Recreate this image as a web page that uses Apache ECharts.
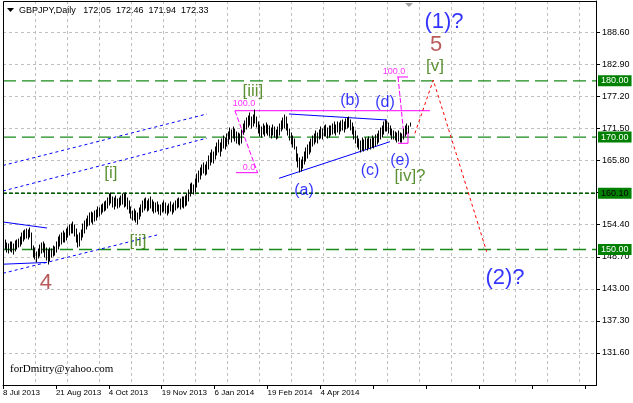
<!DOCTYPE html>
<html><head><meta charset="utf-8">
<script src="https://cdn.jsdelivr.net/npm/echarts@6/dist/echarts.min.js"></script>
<style>html,body{margin:0;padding:0;background:#fff}#c{width:633px;height:403px}</style>
</head><body><div id="c"></div>
<script>
// ---- data ----
const dateLabels = ['8 Jul 2013','21 Aug 2013','4 Oct 2013','19 Nov 2013','6 Jan 2014','19 Feb 2014','4 Apr 2014'];
const highs = [151.6,151.7,151.2,151.0,151.4,151.3,150.9,151.5,151.6,151.9,
152.3,152.9,153.3,153.4,153.6,153.5,153.8,152.9,150.6,150.2,
149.6,150.0,150.8,151.2,151.4,150.9,150.3,149.9,150.2,150.0,
150.6,150.4,151.3,152.2,152.6,152.9,153.2,153.0,153.6,154.0,
154.4,154.6,154.9,154.3,153.6,152.5,152.9,153.4,154.5,155.0,
155.5,156.0,156.5,156.7,156.4,156.9,157.0,157.5,157.4,158.0,
158.1,158.4,158.6,159.2,159.8,160.1,159.4,159.1,159.5,158.9,
159.2,159.6,159.9,159.9,160.0,159.1,158.6,157.5,156.9,157.2,
156.8,156.5,157.3,158.0,158.6,158.9,159.2,158.7,159.0,159.3,
158.8,158.4,158.2,158.5,158.0,157.9,158.3,158.6,158.2,157.8,
158.1,158.4,158.0,158.3,158.7,159.0,159.2,159.0,159.4,159.3,
159.6,159.8,160.6,161.6,161.9,161.5,162.5,163.5,164.0,164.5,
165.0,165.4,165.1,165.6,166.6,167.2,167.7,167.4,168.2,169.0,
169.5,168.9,169.6,170.2,169.8,170.5,170.9,171.6,171.2,171.7,
171.4,170.9,170.8,170.5,171.3,172.3,172.9,173.4,173.8,174.2,
173.6,174.0,174.8,173.6,172.7,172.2,171.8,172.3,171.9,172.5,
172.2,171.9,171.6,172.1,171.8,171.3,171.7,172.3,172.9,173.4,
173.9,173.5,172.4,171.5,170.8,170.2,169.6,168.3,167.0,166.2,
166.0,166.5,167.4,168.0,168.6,169.2,169.6,170.1,170.6,171.0,
170.8,171.3,171.7,171.4,171.9,172.1,171.6,171.9,172.0,172.3,
172.6,172.2,172.7,172.5,172.8,173.0,172.6,173.2,173.4,173.6,
173.1,172.5,171.8,171.0,170.1,169.6,169.3,169.8,169.5,169.9,
169.6,170.0,169.7,170.1,169.9,170.3,170.6,171.0,171.6,172.0,
172.7,173.1,172.9,172.5,172.0,171.4,171.1,170.9,170.7,171.0,
170.8,170.6,171.4,172.0,172.3,172.0,172.46];
const lows = [150.1,150.0,149.6,149.3,149.7,149.5,149.2,149.8,150.1,150.4,
150.6,151.0,151.5,151.8,152.0,151.9,152.3,150.0,148.6,148.3,
147.8,148.4,148.9,149.3,149.5,148.7,148.2,147.5,147.9,148.6,
148.9,149.1,149.6,150.1,150.6,151.0,151.4,151.3,151.6,152.3,
152.6,152.9,153.0,152.4,151.3,150.4,150.7,151.6,152.2,153.0,
153.6,154.1,154.4,154.9,154.6,155.0,155.3,155.8,155.9,156.3,
156.6,156.9,157.0,157.3,157.9,158.3,157.6,157.2,157.8,157.3,
157.5,157.9,158.1,157.6,157.7,157.2,156.5,155.6,155.3,155.2,
154.9,154.6,155.5,156.0,156.6,157.0,157.3,156.8,157.1,157.4,
156.9,156.5,156.6,156.9,156.3,156.2,156.7,156.9,156.4,156.1,
156.5,156.8,156.3,156.6,157.0,157.3,157.5,157.2,157.6,157.4,
157.8,158.0,158.6,159.5,160.0,159.8,160.2,161.2,162.0,162.6,
163.3,163.6,163.2,163.5,164.4,165.0,165.6,165.3,166.1,166.8,
167.3,166.7,167.6,168.1,167.9,168.4,168.8,169.6,169.2,169.9,
169.3,168.9,168.8,168.6,169.0,170.5,170.9,171.4,171.8,172.1,
171.6,172.0,172.5,171.7,170.8,170.2,170.0,170.5,170.2,170.7,
170.4,170.1,169.8,170.3,170.0,169.6,169.9,170.4,171.0,171.4,
171.6,171.2,170.3,169.5,168.8,168.2,167.9,165.8,164.6,163.8,
164.0,164.5,165.2,165.8,166.2,166.9,167.4,168.4,168.8,169.2,
169.0,169.6,169.9,169.7,170.1,170.2,169.8,170.0,170.3,170.5,
170.8,170.4,170.9,170.6,171.0,171.2,170.9,171.4,171.6,171.7,
171.2,170.6,169.7,168.9,168.3,167.8,167.4,167.7,167.6,167.9,
167.7,168.0,167.9,168.2,168.1,168.4,168.7,169.2,169.6,170.0,
170.6,171.0,171.1,170.8,170.3,169.7,169.6,169.5,169.2,169.3,
169.1,169.2,169.6,170.2,170.5,170.8,171.94];
const levelValues = [180, 170, 160, 150];
const levelTexts = ['180.00', '170.00', '160.10', '150.00'];
// trend lines: [barIndex, price] pairs
const channelTop = [[0, 164.94], [123.4, 174.10]];
const channelMid = [[0, 160.40], [123.4, 169.80]];
const channelLow = [[0, 145.77], [93.2, 152.58]];
const wave4Upper = [[0, 154.89], [26.6, 153.82]];
const wave4Lower = [[0, 147.38], [26.6, 147.70]];
const triUpper = [[173.0, 174.10], [232.3, 173.03]];
const triLower = [[167.0, 162.66], [234.1, 169.17]];
const fibLeftTop = [[140.3, 174.68], [258.3, 174.68]];
const fibLeftBottom = [[141.0, 163.66], [154.3, 163.66]];
const fibLeftDiag = [[140.3, 174.68], [154.0, 163.66]];
const fibRightTop = [[238.4, 180.68], [245.0, 180.68]];
const fibRightBottom = [[239.0, 168.88], [245.0, 168.88]];
const fibRightSide = [[245.0, 170.90], [245.0, 168.88]];
const fibRightDiag = [[239.0, 180.68], [242.6, 170.00]];
const projection = [[249.2, 170.66], [260.3, 180.14], [292.6, 149.61]];
// annotations: text, bar index, price, kind
const annotations = [
  ['(1)?', 266.8, 190.45, 'bigBlue'],
  ['5', 262.0, 186.37, 'bigBrown'],
  ['[v]', 261.3, 182.63, 'green'],
  ['[iii]', 151.2, 178.19, 'green'],
  ['[i]', 65.3, 163.6, 'green'],
  ['[ii]', 81.7, 151.5, 'green'],
  ['4', 26.0, 144.04, 'bigBrown'],
  ['(a)', 182.1, 160.4, 'blue'],
  ['(b)', 209.9, 176.4, 'blue'],
  ['(c)', 222.0, 164.1, 'blue'],
  ['(d)', 231.1, 176.05, 'blue'],
  ['(e)', 240.2, 165.74, 'blue'],
  ['[iv]?', 246.2, 163.07, 'green'],
  ['(2)?', 303.7, 144.93, 'bigBlue'],
  ['100.0', 145.8, 175.9, 'fib'],
  ['0.0', 148.8, 164.5, 'fib'],
  ['100.0', 236.5, 181.7, 'fib']
];

// ---- styles ----
const FONT = 'Liberation Sans, Arial, sans-serif';
const annStyle = {
  bigBlue: {color: '#0000ff', fontSize: 22},
  bigBrown: {color: '#a83232', fontSize: 22},
  blue: {color: '#0000ff', fontSize: 16},
  green: {color: '#337700', fontSize: 17},
  fib: {color: '#ff00ff', fontSize: 9}
};

function lineSeries(data, color, type, width) {
  return {type: 'line', data: data, xAxisIndex: 0, yAxisIndex: 0, symbol: 'none', silent: true,
    animation: false, lineStyle: {color: color, width: width || 1, type: type}, itemStyle: {color: color}, z: 3};
}

const chart = echarts.init(document.getElementById('c'), null, {renderer: 'canvas'});
const GRID = {left: 3, right: 37, top: 1, bottom: 18};
const pxPerBar = 1.653;
const plotW = 633 - GRID.left - GRID.right;
const xMax = plotW / pxPerBar;

const series = [];
levelValues.forEach((v, k) => {
  const isMid = v === 160;
  const col = isMid ? '#006000' : '#1a8a1a';
  const s = lineSeries([[0, v], [xMax, v]], col, isMid ? [4, 2] : [13, 6], 1.3);
  s.z = 2;
  s.endLabel = {show: true, distance: 2, formatter: levelTexts[k],
    backgroundColor: '#008000', color: isMid ? '#000' : '#fff',
    fontFamily: FONT, fontSize: 9, padding: [1, 3, 1, 3]};
  series.push(s);
});
series.push(lineSeries(channelTop, '#0000ff', [3, 3]));
series.push(lineSeries(channelMid, '#0000ff', [3, 3]));
series.push(lineSeries(channelLow, '#0000ff', [3, 3]));
series.push(lineSeries(wave4Upper, '#0000ff', 'solid'));
series.push(lineSeries(wave4Lower, '#0000ff', 'solid'));
series.push(lineSeries(triUpper, '#0000ff', 'solid'));
series.push(lineSeries(triLower, '#0000ff', 'solid'));
series.push(lineSeries(fibLeftTop, '#ff00ff', 'solid'));
series.push(lineSeries(fibLeftBottom, '#ff00ff', 'solid'));
series.push(lineSeries(fibLeftDiag, '#ff00ff', [5, 2]));
series.push(lineSeries(fibRightTop, '#ff00ff', 'solid'));
series.push(lineSeries(fibRightBottom, '#ff00ff', 'solid'));
series.push(lineSeries(fibRightSide, '#ff00ff', 'solid'));
series.push(lineSeries(fibRightDiag, '#ff00ff', [5, 2]));
series.push(lineSeries(projection, '#ff0000', [3, 3]));
series.push({
  type: 'custom', xAxisIndex: 0, yAxisIndex: 0, clip: true, silent: true, animation: false, z: 4,
  data: highs.map((h, i) => [i, lows[i], h]),
  renderItem: function (params, api) {
    const a = api.coord([api.value(0), api.value(1)]);
    const b = api.coord([api.value(0), api.value(2)]);
    const x = Math.round(a[0]) + 0.5;
    return {type: 'line', shape: {x1: x, y1: Math.round(a[1]) + 0.5, x2: x, y2: Math.round(b[1]) - 0.5},
      style: {stroke: '#000', lineWidth: 1}};
  }
});
series.push({
  type: 'scatter', xAxisIndex: 0, yAxisIndex: 0, symbolSize: 0, silent: true, animation: false, z: 5,
  data: annotations.map(a => ({
    value: [a[1], a[2]],
    label: {show: true, position: 'inside', formatter: a[0], fontFamily: FONT,
      color: annStyle[a[3]].color, fontSize: annStyle[a[3]].fontSize}
  }))
});

chart.setOption({
  animation: false,
  backgroundColor: '#fff',
  grid: GRID,
  xAxis: [{
    type: 'value', min: 0, max: xMax, interval: 32, position: 'bottom',
    axisLine: {show: true, onZero: false, lineStyle: {color: '#000', width: 1}},
    axisTick: {show: true, length: 4, lineStyle: {color: '#000'}},
    axisLabel: {
      show: true, align: 'left', margin: 4, fontFamily: FONT, fontSize: 8, color: '#000',
      showMaxLabel: false,
      formatter: function (v) { const k = Math.round(v / 32); return (Math.abs(v - k * 32) < 1e-6 && k < dateLabels.length) ? dateLabels[k] : ''; }
    },
    splitLine: {show: false}
  }, {
    type: 'value', min: 0, max: plotW, interval: 32, position: 'top',
    axisLine: {show: false}, axisTick: {show: false}, axisLabel: {show: false},
    splitLine: {show: true, lineStyle: {color: '#c0c0c0', type: [3, 3], width: 1}}
  }],
  yAxis: [{
    type: 'value', position: 'right', min: 125.9, max: 125.9 + 384 / 5.623, interval: 5.7,
    axisLine: {show: true, onZero: false, lineStyle: {color: '#000', width: 1}},
    axisTick: {show: true, length: 4, lineStyle: {color: '#000'}},
    axisLabel: {show: true, margin: 6, fontFamily: FONT, fontSize: 9, color: '#000',
      showMinLabel: false, showMaxLabel: false,
      formatter: function (v) { return v.toFixed(2); }},
    splitLine: {show: true, lineStyle: {color: '#c0c0c0', type: [3, 3], width: 1}}
  }],
  graphic: [
    {type: 'rect', z: 100, silent: true, shape: {x: 3.5, y: 1.5, width: 593, height: 384},
      style: {fill: 'none', stroke: '#000', lineWidth: 1}},
    {type: 'polygon', z: 100, silent: true, shape: {points: [[7, 8], [14, 8], [10.5, 12]]}, style: {fill: '#000'}},
    {type: 'text', z: 100, silent: true, x: 19, y: 6,
      style: {text: 'GBPJPY,Daily   172.05  172.46  171.94  172.33', font: '9px Liberation Sans, Arial, sans-serif', fill: '#000'}},
    {type: 'polygon', z: 100, silent: true, shape: {points: [[405, 3], [413, 3], [409, 7]]}, style: {fill: '#a0a0a0'}},
    {type: 'text', z: 100, silent: true, x: 10, y: 364,
      style: {text: 'forDmitry@yahoo.com', font: '11px Liberation Serif, Times New Roman, serif', fill: '#000'}}
  ],
  series: series
});
</script>
</body></html>
